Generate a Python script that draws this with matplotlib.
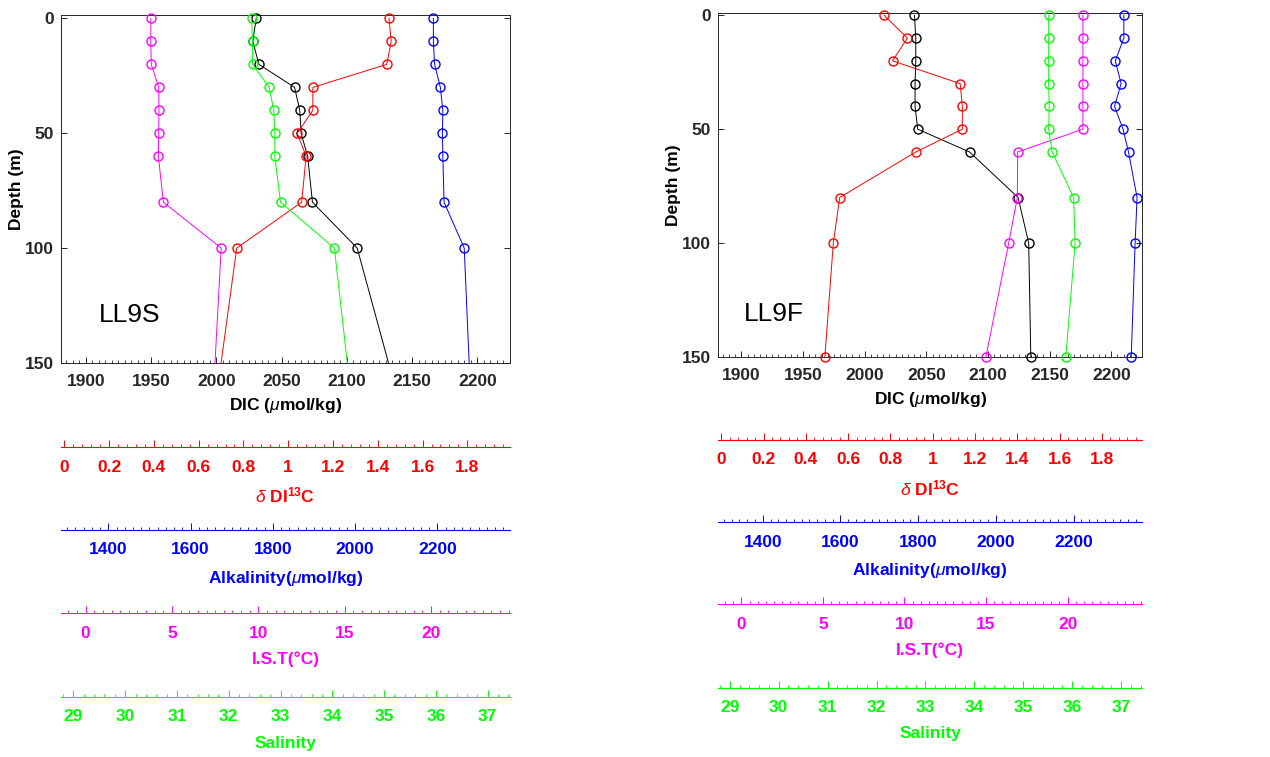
import matplotlib.pyplot as plt
from matplotlib.ticker import MultipleLocator, FuncFormatter

plt.rcParams['font.family'] = ['Liberation Sans', 'DejaVu Sans']
plt.rcParams['font.weight'] = 'bold'
plt.rcParams['axes.labelweight'] = 'bold'
plt.rcParams['mathtext.fontset'] = 'custom'
plt.rcParams['mathtext.rm'] = 'Liberation Sans'
plt.rcParams['mathtext.it'] = 'Liberation Sans:italic:normal'
plt.rcParams['mathtext.bf'] = 'Liberation Sans:bold'

depth = [0, 10, 20, 30, 40, 50, 60, 80, 100, 150]

# LL9S profiles
s_dic = [2030.6, 2028, 2032.7, 2060, 2064, 2065, 2070, 2073.7, 2108, 2132]
s_d13c = [1.45, 1.46, 1.44, 1.11, 1.11, 1.04, 1.08, 1.06, 0.77, 0.70]
s_alk = [2190, 2190, 2193, 2207, 2213, 2212, 2213, 2216, 2265, 2277]
s_ist = [3.78, 3.77, 3.80, 4.23, 4.25, 4.23, 4.21, 4.50, 7.85, 7.49]
s_sal = [32.44, 32.46, 32.46, 32.78, 32.87, 32.89, 32.89, 33.0, 34.04, 34.29]

# LL9F profiles
f_dic = [2040.3, 2041.4, 2041.4, 2040.8, 2040.8, 2043, 2085, 2124.4, 2133, 2134.7]
f_d13c = [0.77, 0.88, 0.81, 1.13, 1.14, 1.14, 0.92, 0.56, 0.53, 0.49]
f_alk = [2329, 2329, 2307, 2322, 2305, 2327, 2341, 2363, 2358, 2348]
f_ist = [20.94, 20.94, 20.94, 20.94, 20.94, 20.94, 16.94, 16.92, 16.39, 14.99]
f_sal = [35.52, 35.52, 35.52, 35.52, 35.53, 35.52, 35.59, 36.03, 36.06, 35.87]

# axis ranges shared by both panels
dic_lim = (1881, 2225)
d13c_lim = (-0.015, 1.99)
alk_lim = (1285, 2376)
ist_lim = (-1.43, 24.57)
sal_lim = (28.76, 37.43)

fmt = FuncFormatter(lambda v, p: f'{v:g}')
fig = plt.figure(figsize=(12.7, 7.57), dpi=100)


def profile(ax, vals, lim, color, nmark):
    tw = ax.twiny()
    tw.set_xlim(lim)
    tw.set_axis_off()
    tw.plot(vals, depth, '-o', color=color, lw=0.7, ms=6.5, mfc='none',
            mew=1.0, markevery=slice(0, nmark), clip_on=False)


def panel(rect, ylim, name, dic, d13c, alk, ist, sal, nmark, txt_xy):
    ax = fig.add_axes(rect)
    ax.set_xlim(dic_lim)
    ax.set_ylim(ylim)
    ax.plot(dic, depth, '-o', color='k', lw=0.7, ms=6.5, mfc='none', mew=1.0,
            markevery=slice(0, nmark), clip_on=False, zorder=5)
    ax.xaxis.set_major_locator(MultipleLocator(50))
    ax.xaxis.set_minor_locator(MultipleLocator(5))
    ax.yaxis.set_major_locator(MultipleLocator(50))
    ax.xaxis.set_major_formatter(fmt)
    ax.tick_params(which='both', direction='in', top=True, right=True,
                   labelsize=12.5, colors='#262626')
    ax.tick_params(which='major', length=4, width=0.7)
    ax.tick_params(axis='x', pad=8)
    ax.tick_params(axis='y', pad=5)
    ax.tick_params(which='minor', length=2, width=0.6)
    for s in ax.spines.values():
        s.set_color('#262626')
        s.set_linewidth(0.7)
    ax.set_xlabel(r'DIC ($\mu$mol/kg)', fontsize=12.5, labelpad=5)
    ax.set_ylabel('Depth (m)', fontsize=12.5, labelpad=1)
    ax.text(txt_xy[0], txt_xy[1], name, fontsize=19, fontweight='normal',
            va='center', ha='left')
    profile(ax, d13c, d13c_lim, 'red', nmark)
    profile(ax, alk, alk_lim, 'blue', nmark)
    profile(ax, ist, ist_lim, 'magenta', nmark)
    profile(ax, sal, sal_lim, 'lime', nmark)


def scale_bar(left, width, y, lim, major, minor, color, label):
    sx = fig.add_axes([left, y, width, 0.0001])
    sx.set_xlim(lim)
    sx.set_yticks([])
    for s in ['top', 'left', 'right']:
        sx.spines[s].set_visible(False)
    sx.spines['bottom'].set_color(color)
    sx.spines['bottom'].set_linewidth(0.8)
    sx.patch.set_visible(False)
    sx.xaxis.set_major_locator(MultipleLocator(major))
    sx.xaxis.set_minor_locator(MultipleLocator(minor))
    sx.xaxis.set_major_formatter(fmt)
    sx.tick_params(axis='x', which='both', direction='in', colors=color,
                   labelsize=12.5)
    sx.tick_params(which='major', length=5, width=0.7, pad=9)
    sx.tick_params(which='minor', length=2.5, width=0.6)
    sx.set_xlabel(label, color=color, fontsize=12.5, labelpad=8)


panel([0.048, 0.5205, 0.3535, 0.4597], (150, -1.5), 'LL9S',
      s_dic, s_d13c, s_alk, s_ist, s_sal, 9, (1910, 129))
panel([0.5654, 0.5284, 0.3339, 0.4544], (150, -1.0), 'LL9F',
      f_dic, f_d13c, f_alk, f_ist, f_sal, 10, (1902, 131))

for left, width, ys in [(0.048, 0.3535, [0.4091, 0.2999, 0.1898, 0.0793]),
                        (0.5654, 0.3339, [0.4188, 0.3100, 0.2017, 0.0915])]:
    scale_bar(left, width, ys[0], d13c_lim, 0.2, 0.04, 'red',
              r'$\delta$ DI$^{\mathbf{13}}$C')
    scale_bar(left, width, ys[1], alk_lim, 200, 20, 'blue',
              r'Alkalinity($\mu$mol/kg)')
    scale_bar(left, width, ys[2], ist_lim, 5, 0.5, 'magenta', 'I.S.T(°C)')
    scale_bar(left, width, ys[3], sal_lim, 1, 0.2, 'lime', 'Salinity')

fig.savefig('out.png', dpi=100)
